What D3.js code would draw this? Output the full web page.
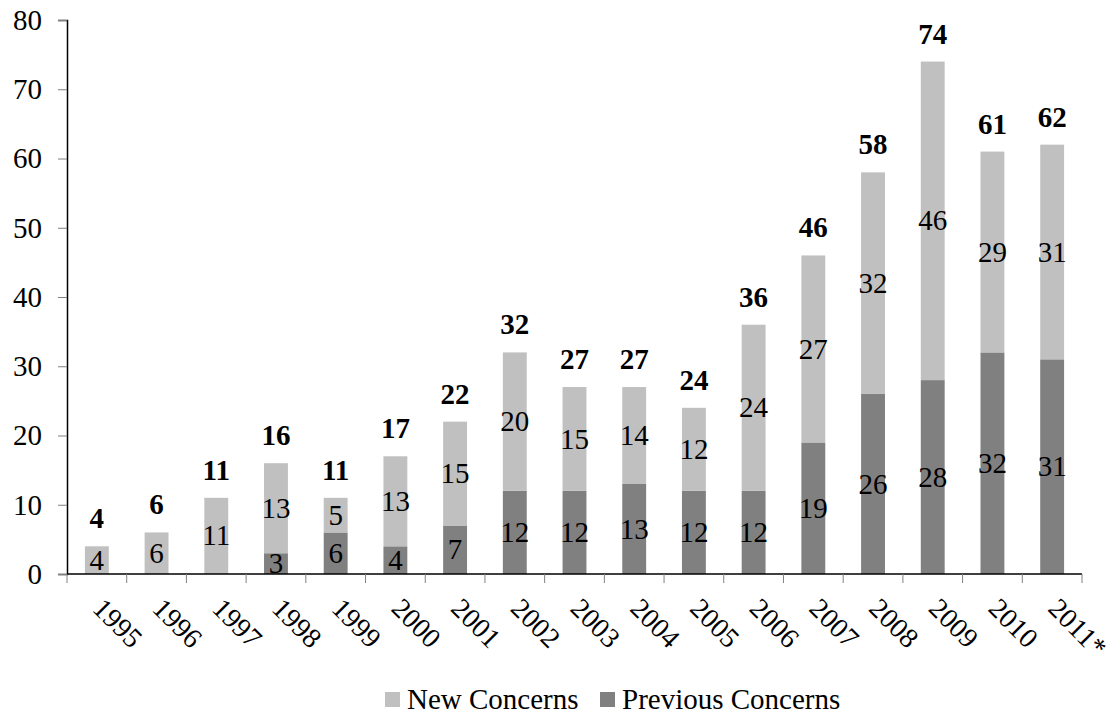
<!DOCTYPE html>
<html>
<head>
<meta charset="utf-8">
<script src="https://cdn.jsdelivr.net/npm/d3@7"></script>
</head>
<body style="margin:0">
<svg id="chart"></svg>
<script>
// data
const years = ['1995', '1996', '1997', '1998', '1999', '2000', '2001', '2002', '2003',
  '2004', '2005', '2006', '2007', '2008', '2009', '2010', '2011*']
const previousConcerns = [0, 0, 0, 3, 6, 4, 7, 12, 12, 13, 12, 12, 19, 26, 28, 32, 31]
const newConcerns = [4, 6, 11, 13, 5, 13, 15, 20, 15, 14, 12, 24, 27, 32, 46, 29, 31]
const yTicks = [0, 10, 20, 30, 40, 50, 60, 70, 80]
const seriesNames = ['New Concerns', 'Previous Concerns']

// constants
const width = 1114
const height = 718
const margin = { left: 67, right: 32, top: 20, bottom: 144 }
const visWidth = width - margin.left - margin.right
const visHeight = height - margin.top - margin.bottom
const colors = { 'New Concerns': '#c0c0c0', 'Previous Concerns': '#808080' }
const fontSize = 29
const yearFontSize = 28
const serif = "'Liberation Serif'"

d3.select('svg#chart').attr('width', width).attr('height', height)
  .attr('font-family', serif)
let svg = d3.select('svg#chart').append('g')
  .attr('transform', 'translate(' + margin.left + ', ' + margin.top + ')')

const rows = years.map((y, i) => ({
  year: y,
  'Previous Concerns': previousConcerns[i],
  'New Concerns': newConcerns[i],
  total: previousConcerns[i] + newConcerns[i]
}))

let xScale = d3.scaleBand().domain(years).range([0, visWidth]).paddingInner(0.6).paddingOuter(0.3)
let yScale = d3.scaleLinear().domain([0, 80]).range([visHeight, 0])

const stacked = d3.stack().keys(['Previous Concerns', 'New Concerns'])(rows)

// bars
let layers = svg.selectAll('g.layer').data(stacked).enter().append('g')
  .attr('class', 'layer')
  .attr('fill', d => colors[d.key])

layers.selectAll('rect').data(d => d).enter().append('rect')
  .attr('x', d => xScale(d.data.year))
  .attr('width', xScale.bandwidth())
  .attr('y', d => yScale(d[1]))
  .attr('height', d => yScale(d[0]) - yScale(d[1]))

// segment labels (middle of each segment)
layers.selectAll('text').data(d => d.filter(s => s[1] - s[0] > 0)).enter().append('text')
  .attr('x', d => xScale(d.data.year) + xScale.bandwidth() / 2)
  .attr('y', d => yScale((d[0] + d[1]) / 2))
  .attr('dy', '0.33em')
  .attr('text-anchor', 'middle')
  .attr('fill', '#000')
  .attr('font-family', serif)
  .attr('font-size', fontSize)
  .text(d => d[1] - d[0])

// totals above the bars
svg.selectAll('text.total').data(rows).enter().append('text')
  .attr('class', 'total')
  .attr('x', d => xScale(d.year) + xScale.bandwidth() / 2)
  .attr('y', d => yScale(d.total) - 18)
  .attr('text-anchor', 'middle')
  .attr('font-family', serif)
  .attr('font-size', fontSize)
  .attr('font-weight', 'bold')
  .text(d => d.total)

// y axis
let axisY = svg.append('g')
  .call(d3.axisLeft(yScale).tickValues(yTicks).tickSize(9).tickPadding(16))
axisY.attr('font-family', serif).attr('font-size', fontSize)
axisY.select('.domain').attr('stroke', '#000').attr('stroke-width', 1.5)
axisY.selectAll('.tick line').attr('stroke', '#808080')
axisY.selectAll('.tick text').attr('fill', '#000')

// x axis: ticks between categories
const step = xScale.step()
let axisX = svg.append('g').attr('transform', 'translate(0,' + visHeight + ')')
axisX.append('line').attr('x1', 0).attr('x2', visWidth).attr('stroke', '#000').attr('stroke-width', 1.5)
axisX.selectAll('line.tick').data(d3.range(years.length + 1)).enter().append('line')
  .attr('class', 'tick')
  .attr('x1', i => i * step)
  .attr('x2', i => i * step)
  .attr('y1', 0).attr('y2', 9)
  .attr('stroke', '#808080')

axisX.selectAll('text').data(years).enter().append('text')
  .attr('transform', d => 'translate(' + (xScale(d) + xScale.bandwidth() / 2 - 5.5) + ',36) rotate(45)')
  .attr('font-family', serif)
  .attr('font-size', yearFontSize)
  .text(d => d)

// legend
let legend = svg.append('g').attr('transform', 'translate(0,' + (692 - margin.top) + ')')
const legendX = [385 - margin.left, 600 - margin.left]
seriesNames.forEach((name, i) => {
  legend.append('rect').attr('x', legendX[i]).attr('y', 0).attr('width', 15).attr('height', 15)
    .attr('fill', colors[name])
  legend.append('text').attr('x', legendX[i] + 22).attr('y', 17)
    .attr('font-family', serif)
    .attr('font-size', fontSize)
    .text(name)
})
</script>
</body>
</html>
